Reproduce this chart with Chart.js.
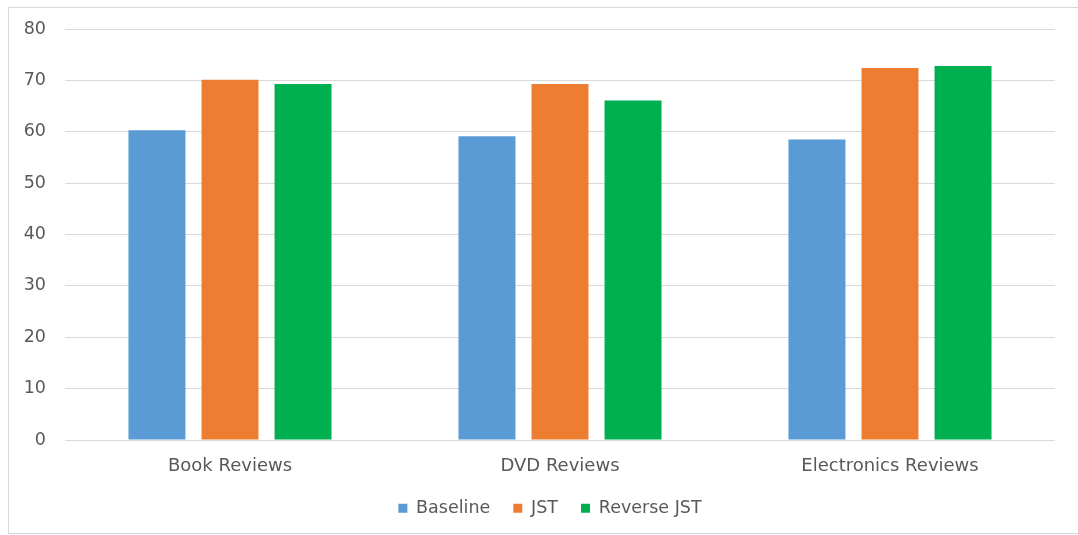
<!DOCTYPE html>
<html>
<head>
<meta charset="utf-8">
<script src="https://cdn.jsdelivr.net/npm/chart.js@4"></script>
<style>
  body { margin: 0; background: #fff; }
  #box { position: absolute; left: 8px; top: 7px; width: 1080px; height: 525px; border: 1px solid #d9d9d9; }
  #myChart { display: block; }
</style>
</head>
<body>
<div id="box"><canvas id="myChart" width="1080" height="525"></canvas></div>
<script>
const categories = ['Book Reviews', 'DVD Reviews', 'Electronics Reviews'];
const baseline = [60.3, 59.1, 58.5];
const jst = [70.1, 69.3, 72.4];
const reverseJst = [69.3, 66.1, 72.8];
const yTicks = [0, 10, 20, 30, 40, 50, 60, 70, 80];

const textColor = '#595959';
const fontFamily = '"DejaVu Sans", sans-serif';

// legend sits a bit right of the canvas centre in the original
const legendShift = {
  id: 'legendShift',
  afterLayout(chart) {
    chart.legend.left += 18;
    chart.legend.right += 18;
  }
};

const myChart = new Chart(document.getElementById('myChart'), {
  type: 'bar',
  data: {
    labels: categories,
    datasets: [
      { label: 'Baseline', data: baseline, backgroundColor: '#5b9bd5' },
      { label: 'JST', data: jst, backgroundColor: '#ed7d31' },
      { label: 'Reverse JST', data: reverseJst, backgroundColor: '#00b050' }
    ]
  },
  options: {
    responsive: false,
    animation: false,
    categoryPercentage: 0.664,
    barPercentage: 0.78,
    layout: { padding: { left: 0, right: 34, top: 21, bottom: 6 } },
    plugins: {
      tooltip: { enabled: false },
      legend: {
        position: 'bottom',
        labels: {
          color: textColor,
          font: { family: fontFamily, size: 17.5 },
          boxWidth: 9,
          boxHeight: 9,
          padding: 23
        }
      }
    },
    scales: {
      x: {
        afterFit: function (scale) { scale.height = 36.5; },
        grid: { display: false },
        border: { display: false },
        ticks: { color: textColor, font: { family: fontFamily, size: 18 }, padding: 8 }
      },
      y: {
        min: 0,
        max: 80,
        afterFit: function (scale) {
          scale.width = 56;
          scale.paddingTop = 0;
          scale.paddingBottom = 0;
        },
        afterBuildTicks: function (scale) { scale.ticks = yTicks.map(v => ({ value: v })); },
        grid: { color: '#d9d9d9', drawTicks: false },
        border: { display: false },
        ticks: { color: textColor, font: { family: fontFamily, size: 17.5 }, padding: 19 }
      }
    }
  },
  plugins: [legendShift]
});
</script>
</body>
</html>
